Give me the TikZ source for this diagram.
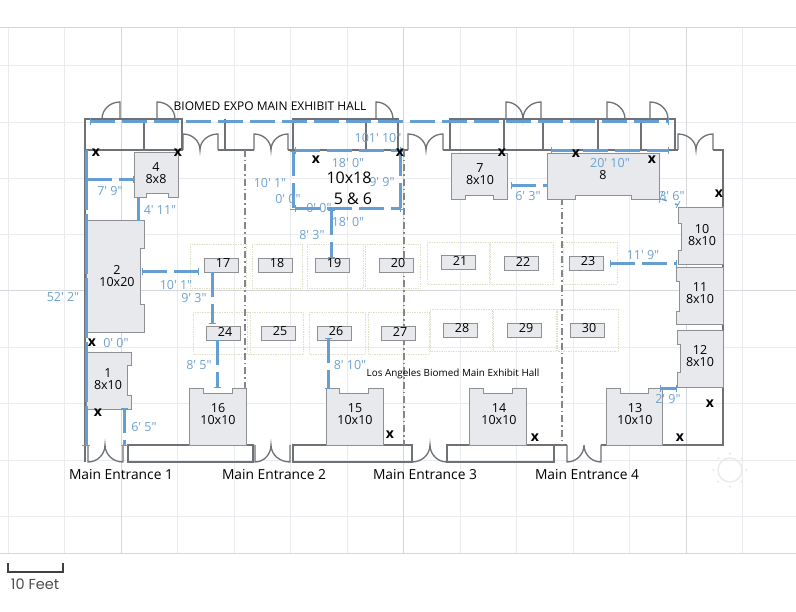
\documentclass[tikz,border=0pt]{standalone}
\usepackage{fontspec}
\setmainfont[Ligatures=TeXOff]{Open Sans}
\newfontfamily\scalefont{Poppins}
\usetikzlibrary{calc,positioning}
\definecolor{gridlight}{HTML}{EAEBEE}
\definecolor{griddark}{HTML}{D6D7DB}
\definecolor{wallgrey}{HTML}{6E7176}
\definecolor{boothfill}{HTML}{E7E9EC}
\definecolor{boothline}{HTML}{8E9094}
\definecolor{dimblue}{HTML}{659ED2}
\definecolor{dimtext}{HTML}{6FA1CE}
\definecolor{plotline}{HTML}{DEDFC8}
\tikzset{
  wall/.style={draw=wallgrey,line width=1.3pt},
  booth/.style={fill=boothfill,draw=boothline,line width=.8pt},
  boothlabel/.style={align=center,inner sep=0pt,font=\fontsize{12.5}{12}\selectfont},
  dimline/.style={draw=dimblue,line width=3pt,dash pattern=on 25pt off 7pt},
  dimtick/.style={draw=dimblue,line width=.8pt},
  dimlabel/.style={text=dimtext,inner sep=0pt,font=\fontsize{12.5}{14}\selectfont},
  hallname/.style={inner sep=0pt,font=\fontsize{13.8}{15}\selectfont}
}
\begin{document}
\begin{tikzpicture}[x=1pt,y=-1pt]
\useasboundingbox[fill=white] (0,0) rectangle (796,612);

% grid
\foreach \x in {8,64.5,177.5,234,290,347,460,516,573,629,742} {
\draw[gridlight] (\x,27) -- (\x,553);
}
\foreach \y in {65,122,178,234,347,403,460,516} {
\draw[gridlight] (0,\y) -- (796,\y);
}
\foreach \x in {121,403.5,686} {
\draw[griddark] (\x,27) -- (\x,553);
}
\foreach \y in {27,290,553} {
\draw[griddark] (0,\y) -- (796,\y);
}

% plots round the small tables
\foreach \xa/\ya/\xb/\yb in {190/244/246/288,252/244/302/288,307/244/363/288,365/244/420/288,427/242/489/284,490/242/553/284,563/242/617/284,
193/312/250/354,247/312/303/354,309/312/365/354,368/312/429/354,430/309/492/351,493/309/556/351,557/309/618/351} {
\draw[plotline,densely dotted,line width=.7pt] (\xa,\ya) rectangle (\xb,\yb);
}

% walls
\draw[wall] (85,462) -- (85,119) -- (182,119) -- (182,150);
\draw[wall] (85,150) -- (183,150) (144,119) -- (144,150);
\draw[wall] (218,150) -- (254,150) (225,119) -- (225,150);
\draw[wall] (288,150) -- (408,150) (293,150) -- (293,119) -- (398,119) -- (398,150) (366,119) -- (366,150);
\draw[wall] (443,150) -- (678,150) (450,150) -- (450,119) -- (675,119) -- (675,150);
\foreach \x in {504,543,598,641} {
\draw[wall] (\x,119) -- (\x,150);
}
\draw[wall] (713,150) -- (723,150) -- (723,445) -- (601,445);
\draw[wall] (253,445) -- (128,445) -- (128,462) -- (253,462) -- cycle;
\draw[wall] (412,445) -- (293,445) -- (293,462) -- (412,462) -- cycle;
\draw[wall] (567,445) -- (447,445) -- (447,462) -- (554,462) -- (554,445);

% doors
\foreach \xa/\xm/\xb/\yw/\yt in {183/200/218/150/134,254/271/288/150/134,408/426/443/150/134,678/696/713/150/134,506/523/541/119/102} {
\draw[wall] (\xa,\yw) -- (\xa,\yt) to[out=0,in=90] (\xm,\yw) to[out=90,in=180] (\xb,\yt) -- (\xb,\yw);
}
\foreach \xa/\xm/\xb in {88/105/123,255/271/290,412/430/447,567/584/601} {
\draw[wall] (\xa,445) -- (\xa,462) to[out=0,in=-90] (\xm,445) to[out=-90,in=180] (\xb,462) -- (\xb,445);
}
\foreach \xa/\xb/\a in {120/102/180,157/175/0,376/393/0,607/625/0,650/668/0} {
\draw[wall] (\xa,119) -- (\xa,102) to[out=\a,in=90] (\xb,119);
}

% dash-dot hall lines
\foreach \x/\y in {245/150,404/150,562/198} {
\draw[wallgrey!85,line width=1.2pt,dash pattern=on 7pt off 3pt on 1.5pt off 3pt] (\x,\y) -- (\x,445);
}

% booths
\foreach \xa/\xb/\na/\nb/\ya/\yb in {134/178/146/168/152/197,451/507/465/493/153/199,547/659/575/631/153/199} {
\draw[booth] (\xa,\ya) -- (\xb,\ya) -- (\xb,\yb) -- (\nb,\yb) -- (\nb,\yb-3.5) -- (\na,\yb-3.5) -- (\na,\yb) -- (\xa,\yb) -- cycle;
}
\foreach \xa/\xb/\na/\nb in {189/246/203/232,326/383/339/368,469/526/483/512,606/662/620/648} {
\draw[booth] (\xa,445) -- (\xa,388) -- (\na,388) -- (\na,393) -- (\nb,393) -- (\nb,388) -- (\xb,388) -- (\xb,445) -- cycle;
}
\foreach \ya/\yb/\na/\nb/\xa in {207/264/223/250/678,267/324/281/311/676,330/387/344/372/677} {
\draw[booth] (723,\ya) -- (\xa,\ya) -- (\xa,\na) -- (\xa+3.5,\na) -- (\xa+3.5,\nb) -- (\xa,\nb) -- (\xa,\yb) -- (723,\yb) -- cycle;
}
\foreach \ya/\yb/\na/\nb/\xb in {220/332/248/304/144,352/409/365/395/131} {
\draw[booth] (86,\ya) -- (\xb,\ya) -- (\xb,\na) -- (\xb-4,\na) -- (\xb-4,\nb) -- (\xb,\nb) -- (\xb,\yb) -- (86,\yb) -- cycle;
}

% small tables
\foreach \n/\xa/\ya in {17/204/258,18/258/258,19/315/258,20/379/258,21/441/255,22/504/256,23/569/256,
24/206/326,25/261/326,26/317/326,27/381/326,28/443/323,29/507/323,30/570/323} {
\draw[booth] (\xa,\ya) rectangle ++(34.5,14);
\node[boothlabel] (t\n) at (\xa+19,\ya+5.5) {\n};
}

% measured distances
\foreach \xa/\ya/\xb/\yb in {90/122/668/122,87/180/133/180,138/197/138/220,142/272/198/272,212/272/212/323,
217/340/217/387,124.5/408/124.5/445,328/338/328/388,331/210/331/257,295/151/400/151,295/209/400/209,293/151/293/209,400/151/400/209,
551/150.5/668/150.5,511/185.5/547/185.5,610/264/676/264,660/389/676/389} {
\draw[dimline] (\xa,\ya) -- (\xb,\yb);
\draw[dimtick] ($(\xa,\ya)!3.5pt!90:(\xb,\yb)$) -- ($(\xa,\ya)!3.5pt!-90:(\xb,\yb)$);
\draw[dimtick] ($(\xb,\yb)!3.5pt!90:(\xa,\ya)$) -- ($(\xb,\yb)!3.5pt!-90:(\xa,\ya)$);
}
\draw[dimline,dash pattern=on 60pt off 4pt] (86,150) -- (86,445);
\draw[dimtick] (82,445) -- (90,445);
\draw[dimblue,line width=1.6pt,dash pattern=on 5pt off 9pt] (662,199) -- (678,205);
\draw[dimblue,line width=.7pt] (659,203) -- (663,191) (676,208) -- (680,201);

% booth names
\node[boothlabel] (b1) at (108,379) {1\\8x10};
\node[boothlabel] (b2) at (117,276) {2\\10x20};
\node[boothlabel] (b4) at (156,173) {4\\8x8};
\node[boothlabel] (b7) at (480,174) {7\\8x10};
\node[boothlabel] (b8) at (603,175) {8};
\node[boothlabel] (b10) at (702,235) {10\\8x10};
\node[boothlabel] (b11) at (700,293) {11\\8x10};
\node[boothlabel] (b12) at (700,356) {12\\8x10};
\node[boothlabel] (b13) at (635,414) {13\\10x10};
\node[boothlabel] (b14) at (499,414) {14\\10x10};
\node[boothlabel] (b15) at (355,414) {15\\10x10};
\node[boothlabel] (b16) at (218,414) {16\\10x10};

\foreach \n/\x/\y/\t in {l1/378/138/{101' 10"},l2/63/297/{52' 2"},l3/110/191/{7' 9"},l4/160/210/{4' 11"},l5/176/285/{10' 1"},
l6/194/298/{9' 3"},l7/116/343/{0' 0"},l8/199/365/{8' 5"},l9/144/427/{6' 5"},l10/350/365/{8' 10"},l11/312/235/{8' 3"},
l12/348/222/{18' 0"},l13/348/163/{18' 0"},l14/382/182/{9' 9"},l15/270/183/{10' 1"},l16/288/199/{0' 0"},l17/319/208/{0' 0"},
l18/610/163/{20' 10"},l19/528/196/{6' 3"},l20/672/196/{3' 6"},l21/643/255/{11' 9"},l22/668/399/{2' 9"}} {
\node[dimlabel] (\n) at (\x,\y) {\t};
}

\node[inner sep=0pt,font=\fontsize{16}{18}\selectfont] (b5) at (349,178) {10x18};
\node[inner sep=0pt,font=\fontsize{16}{18}\selectfont] (b6) at (353,199) {5 \& 6};

% X marks
\foreach \x/\y in {96/153,178/153,316/160,400/153,502/153,576/154,652/160,719/194,92/343,98/413,390/435,535/438,680/438,710/404} {
\node[inner sep=0pt,font=\fontsize{14}{14}\selectfont\bfseries] at (\x,\y) {x};
}

% hall names
\node[inner sep=0pt,font=\fontsize{12}{14}\selectfont] (hall) at (270,106) {BIOMED EXPO MAIN EXHIBIT HALL};
\node[inner sep=0pt,font=\fontsize{9.9}{12}\selectfont] (los) at (453,374) {Los Angeles Biomed Main Exhibit Hall};
\node[hallname] (e1) at (121,475) {Main Entrance 1};
\node[hallname] (e2) at (274,475) {Main Entrance 2};
\node[hallname] (e3) at (425,475) {Main Entrance 3};
\node[hallname] (e4) at (587,475) {Main Entrance 4};

% faint sun
\draw[gray!15!white,line width=1.6pt] (730,470) circle (12);
\foreach \a in {0,45,...,315} {
\fill[gray!15!white] (730,470) ++(\a:16.5) circle (1.3);
}

% scale
\draw[black!75,line width=1.3pt] (8,563) -- (8,572) -- (63,572) -- (63,563);
\node[inner sep=0pt,text=black!70,font=\scalefont\fontsize{14.5}{16}\selectfont] (sc) at (35,584) {10 Feet};
\end{tikzpicture}
\end{document}
